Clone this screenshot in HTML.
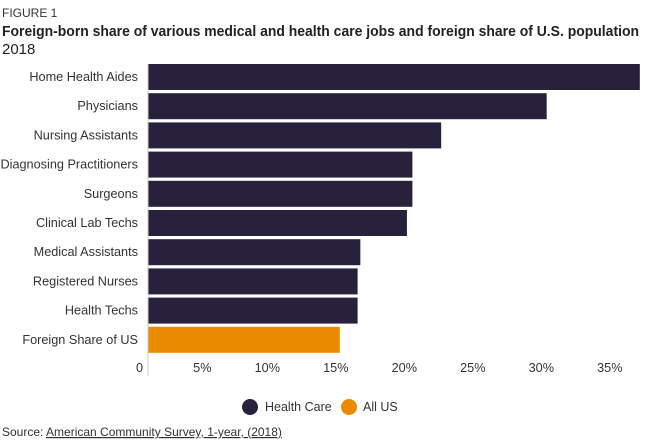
<!DOCTYPE html>
<html><head><meta charset="utf-8"><style>
body{margin:0;background:#fff;}
svg{display:block;font-family:"Liberation Sans",sans-serif;}
</style></head><body>
<svg width="652" height="442" viewBox="0 0 652 442">
<text x="2" y="17" font-size="12" fill="#333">FIGURE 1</text>
<text x="2" y="36" font-size="15" font-weight="bold" fill="#222" textLength="637" lengthAdjust="spacingAndGlyphs">Foreign-born share of various medical and health care jobs and foreign share of U.S. population</text>
<text x="2" y="54" font-size="15" fill="#222">2018</text>
<g id="bars"></g>
<g id="axis"></g>
<g>
<circle cx="250" cy="407" r="8" fill="#27213c"/>
<text x="265" y="411" font-size="12.5" fill="#333">Health Care</text>
<circle cx="349" cy="407" r="8" fill="#e98b00"/>
<text x="363" y="411" font-size="12.5" fill="#333">All US</text>
</g>
<text x="2" y="436" font-size="12" fill="#333">Source: <tspan text-decoration="underline">American Community Survey, 1-year, (2018)</tspan></text>
</svg>
<script>
const categories=["Home Health Aides","Physicians","Nursing Assistants","Diagnosing Practitioners","Surgeons","Clinical Lab Techs","Medical Assistants","Registered Nurses","Health Techs","Foreign Share of US"];
const values=[35.9,29.1,21.4,19.3,19.3,18.9,15.5,15.3,15.3,14.0];
const groups=["hc","hc","hc","hc","hc","hc","hc","hc","hc","us"];
const ticks=[0,5,10,15,20,25,30,35];
const tickLabels=["0","5%","10%","15%","20%","25%","30%","35%"];
const NS="http://www.w3.org/2000/svg";
const x0=148,pxPer=13.7,top0=64,pitch=29.2,bh=26;
const xs=v=>x0+v*pxPer;
const ys=i=>top0+i*pitch;
const bars=document.getElementById('bars'),axis=document.getElementById('axis');
categories.forEach((c,i)=>{
  const r=document.createElementNS(NS,'rect');
  r.setAttribute('x',x0);r.setAttribute('y',ys(i));
  r.setAttribute('width',Math.min(xs(values[i]),640)-x0);r.setAttribute('height',bh);
  r.setAttribute('fill',groups[i]==='us'?'#e98b00':'#27213c');
  
  
  bars.appendChild(r);
  const t=document.createElementNS(NS,'text');
  t.setAttribute('x',138);t.setAttribute('y',ys(i)+bh/2+4);
  t.setAttribute('text-anchor','end');t.setAttribute('font-size','12.7');t.setAttribute('fill','#333');
  t.textContent=c;
  
  
  axis.appendChild(t);
});
const l=document.createElementNS(NS,'line');
l.setAttribute('x1',x0);l.setAttribute('x2',x0);l.setAttribute('y1',top0);l.setAttribute('y2',376);
l.setAttribute('stroke','#ccc');


axis.appendChild(l);
ticks.forEach((v,i)=>{
  const t=document.createElementNS(NS,'text');
  t.setAttribute('x',xs(v)-5);t.setAttribute('y',372);
  t.setAttribute('text-anchor','end');t.setAttribute('font-size','12.7');t.setAttribute('fill','#333');
  t.textContent=tickLabels[i];
  
  
  axis.appendChild(t);
});
</script>
</body></html>
